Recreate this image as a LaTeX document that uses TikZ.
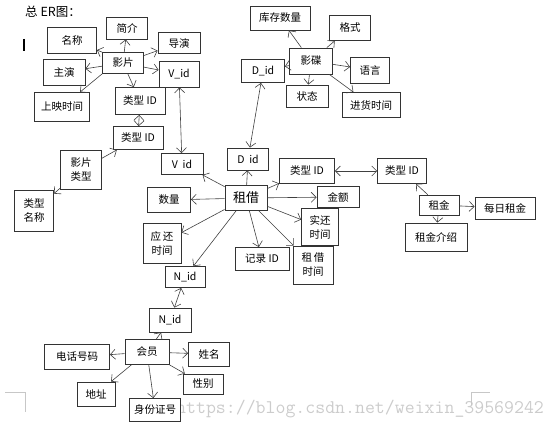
\documentclass[tikz,border=0pt]{standalone}
\usepackage{fontspec}
\setmainfont{Noto Sans CJK SC}
\usepackage{tikz}
\usetikzlibrary{arrows.meta,positioning}

\begin{document}
\begin{tikzpicture}[
  x=1pt, y=-1pt,
  box/.style={draw=black!80, fill=white, line width=0.8pt, inner sep=0pt, align=center, font=\fontsize{10.5}{14}\selectfont},
  arrow/.style={-{Straight Barb[length=5pt,width=10pt]}, draw=black!75, line width=0.6pt},
  darrow/.style={{Straight Barb[length=5pt,width=10pt]}-{Straight Barb[length=5pt,width=10pt]}, draw=black!75, line width=0.6pt},
  pagemark/.style={draw=black!22, line width=0.8pt}
]
\useasboundingbox (0,0) rectangle (554,428);

% watermark and page marks
\node[anchor=west, inner sep=0pt, text=black!20, font=\ttfamily\fontsize{19.3}{20}\selectfont] (wm) at (176,409) {https://blog.csdn.net/weixin\_39569242};
\draw[pagemark] (5,392) -- (25,392) -- (25,412);
\draw[pagemark] (471,405) -- (471,392) -- (490,392);

% title
\node[anchor=west, inner sep=0pt, font=\fontsize{12.5}{14}\selectfont] (title) at (25,12) {总 ER图：};
\draw[black, line width=1.6pt] (24,39) -- (24,51);

% film
\node[box, minimum width=41pt, minimum height=21pt] (film) at (123,63) {影片};
\node[box, minimum width=49pt, minimum height=26pt] (filmName) at (72,40) {名称};
\node[box, minimum width=41pt, minimum height=22pt] (intro) at (127,28) {简介};
\node[box, minimum width=42pt, minimum height=21pt] (director) at (179,43) {导演};
\node[box, minimum width=42pt, minimum height=26pt] (actor) at (64,72) {主演};
\node[box, minimum width=40pt, minimum height=26pt] (vidA) at (179,74) {V\_id};
\node[box, minimum width=55pt, minimum height=29pt] (release) at (62,107) {上映时间};
\node[box, minimum width=50pt, minimum height=27pt] (typeA) at (140,101) {类型 ID};
\node[box, minimum width=50pt, minimum height=23pt] (typeB) at (138,138) {类型 ID};
\node[box, minimum width=41pt, minimum height=39pt] (filmType) at (81,170) {影片\\类型};
\node[box, minimum width=39pt, minimum height=41pt] (typeName) at (34,211) {类型\\名称};

% disc
\node[box, minimum width=43pt, minimum height=26pt] (disc) at (311,61) {影碟};
\node[box, minimum width=60pt, minimum height=24pt] (stock) at (280,18) {库存数量};
\node[box, minimum width=41pt, minimum height=25pt] (format) at (350,28) {格式};
\node[box, minimum width=43pt, minimum height=23pt] (didA) at (263,71) {D\_id};
\node[box, minimum width=39pt, minimum height=26pt] (lang) at (370,70) {语言};
\node[box, minimum width=42pt, minimum height=22pt] (state) at (307,96) {状态};
\node[box, minimum width=58pt, minimum height=25pt] (stockTime) at (371,105) {进货时间};

% rent
\node[box, minimum width=42pt, minimum height=25pt, font=\fontsize{13}{15}\selectfont] (rent) at (246,198) {租借};
\node[box, minimum width=42pt, minimum height=21pt] (vidB) at (182,164) {V\ \ id};
\node[box, minimum width=41pt, minimum height=22pt] (didB) at (248,159) {D\ \ id};
\node[box, minimum width=43pt, minimum height=25pt] (qty) at (169,200) {数量};
\node[box, minimum width=38pt, minimum height=40pt] (dueTime) at (162,243) {应\,还\\时间};
\node[box, minimum width=55pt, minimum height=25pt] (typeC) at (307,171) {类型 ID};
\node[box, minimum width=42pt, minimum height=21pt] (amount) at (338,197) {金额};
\node[box, minimum width=37pt, minimum height=37pt] (retTime) at (320,227) {实还\\时间};
\node[box, minimum width=54pt, minimum height=23pt] (recId) at (262,259) {记录 ID};
\node[box, minimum width=40pt, minimum height=38pt] (rentTime) at (313,265) {租\,借\\时间};
\node[box, minimum width=40pt, minimum height=21pt] (nidA) at (185,277) {N\_id};

% fee
\node[box, minimum width=49pt, minimum height=25pt] (typeD) at (402,171) {类型 ID};
\node[box, minimum width=40pt, minimum height=20pt] (fee) at (439,205) {租金};
\node[box, minimum width=60pt, minimum height=22pt] (dailyFee) at (505,208) {每日租金};
\node[box, minimum width=62pt, minimum height=28pt] (feeIntro) at (436,237) {租金介绍};

% member
\node[box, minimum width=42pt, minimum height=24pt] (nidB) at (170,320) {N\_id};
\node[box, minimum width=44pt, minimum height=25pt] (member) at (147,352) {会员};
\node[box, minimum width=65pt, minimum height=25pt] (phone) at (77,357) {电话号码};
\node[box, minimum width=41pt, minimum height=24pt] (name) at (209,354) {姓名};
\node[box, minimum width=40pt, minimum height=20pt] (gender) at (203,384) {性别};
\node[box, minimum width=38pt, minimum height=24pt] (addr) at (96,394) {地址};
\node[box, minimum width=51pt, minimum height=23pt] (idNo) at (155,410) {身份证号};

% film links
\draw[arrow] (film.north west) -- (filmName);
\draw[arrow] (film) -- (intro);
\draw[arrow] (film) -- (director);
\draw[arrow] (film) -- (actor);
\draw[arrow] (film) -- (vidA);
\draw[arrow] (film.south west) -- (release);
\draw[arrow] (film) -- (typeA);
\draw[darrow] (typeA) -- (typeB);
\draw[arrow] (filmType) -- (typeB);
\draw[arrow] (filmType) -- (typeName);
\draw[darrow] (vidA) -- (vidB);

% disc links
\draw[arrow] (disc) -- (stock);
\draw[arrow] (disc) -- (format);
\draw[arrow] (disc) -- (didA);
\draw[arrow] (disc) -- (lang);
\draw[arrow] (disc) -- (state);
\draw[arrow] (disc) -- (stockTime);
\draw[darrow] (didA) -- (didB);

% rent links
\draw[arrow] (rent) -- (vidB);
\draw[arrow] (rent) -- (didB);
\draw[arrow] (rent) -- (qty);
\draw[arrow] (rent) -- (dueTime);
\draw[arrow] (rent) -- (nidA);
\draw[arrow] (rent) -- (recId);
\draw[arrow] (rent) -- (rentTime);
\draw[arrow] (rent) -- (retTime);
\draw[arrow] (rent) -- (amount);
\draw[arrow] (rent) -- (typeC);
\draw[darrow] (typeC) -- (typeD);

% fee links
\draw[arrow] (fee) -- (typeD);
\draw[arrow] (fee) -- (dailyFee);
\draw[arrow] (fee) -- (feeIntro);

% member links
\draw[darrow] (nidA) -- (nidB);
\draw[arrow] (member) -- (nidB);
\draw[arrow] (member) -- (phone);
\draw[arrow] (member) -- (name);
\draw[arrow] (member) -- (gender);
\draw[arrow] (member) -- (addr);
\draw[arrow] (member) -- (idNo);
\end{tikzpicture}
\end{document}
